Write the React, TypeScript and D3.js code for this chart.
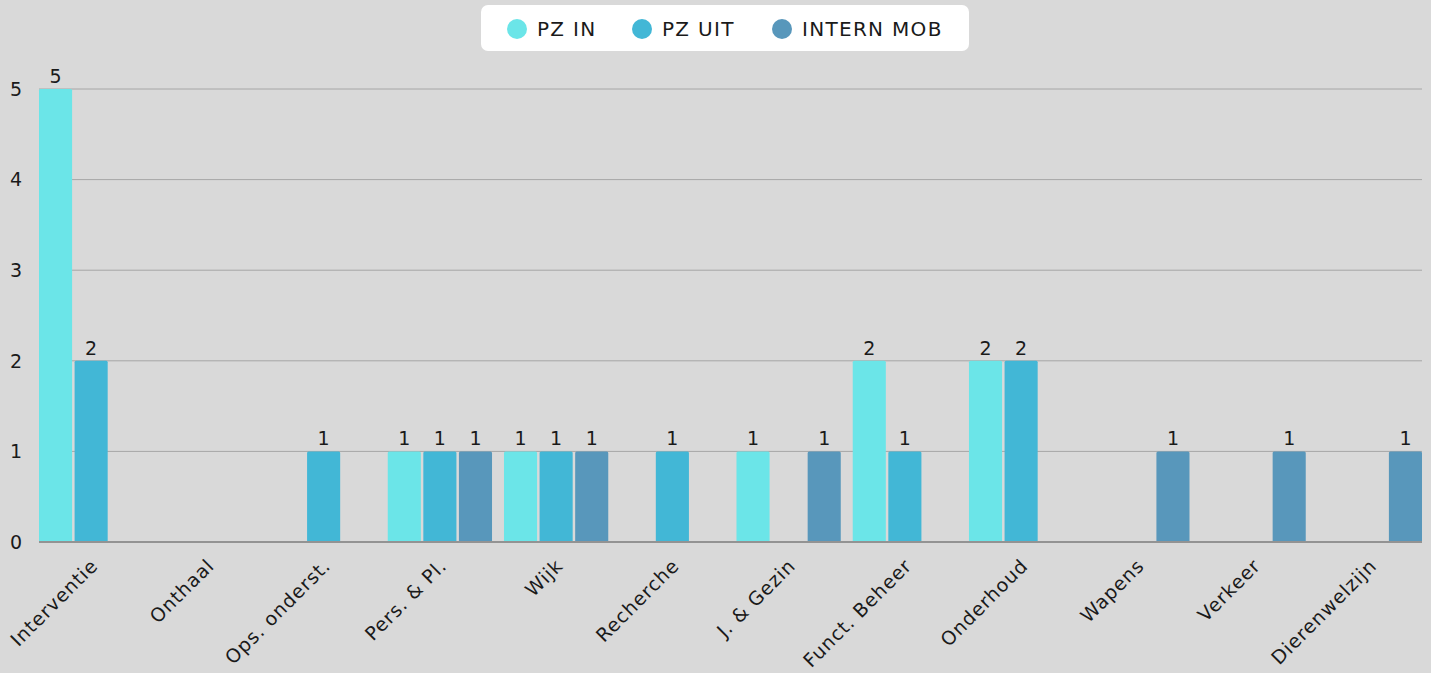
import React from "react";
import * as d3 from "d3";

const categories = ["Interventie", "Onthaal", "Ops. onderst.", "Pers. & Pl.", "Wijk", "Recherche", "J. & Gezin", "Funct. Beheer", "Onderhoud", "Wapens", "Verkeer", "Dierenwelzijn"];
const seriesNames = ["PZ IN", "PZ UIT", "INTERN MOB"];
const pzIn = [5, 0, 0, 1, 1, 0, 1, 2, 2, 0, 0, 0];
const pzUit = [2, 0, 1, 1, 1, 1, 0, 1, 2, 0, 0, 0];
const internMob = [0, 0, 0, 1, 1, 0, 1, 0, 0, 1, 1, 1];
const yTicks = [0, 1, 2, 3, 4, 5];
const colors = ["#6be5e8", "#42b7d6", "#5897bb"];

const W = 1431, H = 673;
const FONT = "'DejaVu Sans', sans-serif";

export default function App() {
  const series = [pzIn, pzUit, internMob];
  const x0 = d3.scaleBand<string>().domain(categories).range([39, 1422]).paddingInner(0.103).paddingOuter(0);
  const x1 = d3.scaleBand<string>().domain(seriesNames).range([0, x0.bandwidth()]).paddingInner(0.07);
  const y = d3.scaleLinear().domain([0, 5]).range([542, 89]);

  const legendX = [517, 642, 782];

  return (
    <div style={{ position: "absolute", left: 0, top: 0 }}>
      <svg width={W} height={H} style={{ display: "block", fontFamily: FONT }}>
        <rect x={0} y={0} width={W} height={H} fill="#d9d9d9" />
        {yTicks.filter(t => t > 0).map(t => (
          <line key={t} x1={39} x2={1422} y1={y(t)} y2={y(t)} stroke="#a6a6a6" strokeWidth={1} />
        ))}
        {yTicks.map(t => (
          <text key={"yl" + t} x={16} y={y(t)} dy="0.36em" textAnchor="middle" fontSize={19} fill="#1a1a1a">{t}</text>
        ))}
        {categories.map((c, i) => (
          <g key={c} transform={`translate(${x0(c)},0)`}>
            {series.map((s, j) => s[i] > 0 ? (
              <g key={j}>
                <rect x={x1(seriesNames[j])} y={y(s[i])} width={x1.bandwidth()} height={y(0) - y(s[i])} fill={colors[j]} rx={1.5} />
                <text x={(x1(seriesNames[j]) as number) + x1.bandwidth() / 2} y={y(s[i]) - 6} textAnchor="middle" fontSize={19} fill="#1a1a1a">{s[i]}</text>
              </g>
            ) : null)}
          </g>
        ))}
        <line x1={39} x2={1422} y1={y(0)} y2={y(0)} stroke="#939393" strokeWidth={2} />
        {categories.map(c => {
          const cx = (x0(c) as number) + x0.bandwidth() / 2 + 8;
          const cy = 567;
          return (
            <text key={"xl" + c} x={cx} y={cy} transform={`rotate(-45,${cx},${cy})`} textAnchor="end" fontSize={19} letterSpacing={0.9} fill="#1a1a1a">{c}</text>
          );
        })}
        <rect x={481} y={5} width={488} height={46} rx={7} fill="#ffffff" />
        {seriesNames.map((n, j) => (
          <g key={n}>
            <circle cx={legendX[j]} cy={29} r={10} fill={colors[j]} />
            <text x={legendX[j] + 20} y={29} dy="0.36em" fontSize={20} letterSpacing={1.3} fill="#1a1a1a">{n}</text>
          </g>
        ))}
      </svg>
    </div>
  );
}
